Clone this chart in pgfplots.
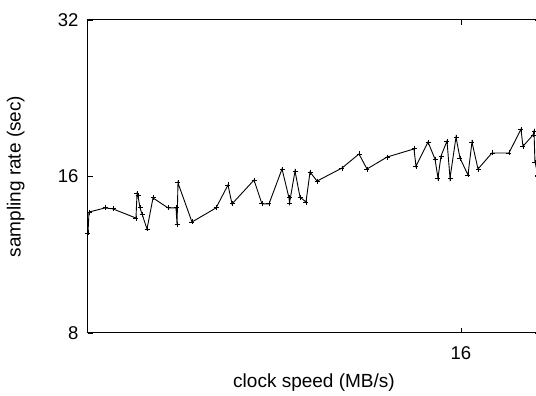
\documentclass[border=0pt]{standalone}
\usepackage{fontspec}
\setmainfont{Liberation Sans}
\usepackage{pgfplots}
\pgfplotsset{compat=1.18}
\begin{document}
\fontsize{19bp}{22bp}\selectfont
\begin{tikzpicture}
\begin{axis}[
  scale only axis, width=452bp, height=313bp,
  xmin=9.339, xmax=17.411,
  ymode=log, log basis y=2, ymin=8, ymax=32,
  ytick={8,16,32}, yticklabels={8,16,32},
  xtick={16}, xticklabels={16},
  minor tick num=0,
  tick align=inside, major tick length=5bp,
  tick style={black, line width=0.8bp},
  axis line style={line width=1bp},
  /pgf/number format/assume math mode=true,
  tick label style={font=\fontsize{18.5bp}{21bp}\selectfont},
  xticklabel style={yshift=-7bp},
  yticklabel style={xshift=-3bp},
  xlabel={clock speed (MB/s)}, ylabel={sampling rate (sec)},
  label style={font=\fontsize{19bp}{22bp}\selectfont},
  x label style={at={(axis description cs:0.5,-0.16)}, anchor=center},
  y label style={at={(axis description cs:-0.16,0.5)}, anchor=center},
  clip=true,
]
\addplot[black, line width=0.9bp, mark=+, mark size=2.5bp] coordinates {
(9.339,12.46) (9.357,13.67) (9.643,13.92) (9.786,13.86) (10.196,13.31)
(10.214,14.81) (10.232,14.68) (10.268,13.92) (10.304,13.55) (10.393,12.68)
(10.500,14.55) (10.768,13.92) (10.911,13.92) (10.929,12.96) (10.946,15.55)
(11.196,13.08) (11.625,13.92) (11.839,15.41) (11.911,14.17) (12.304,15.75)
(12.446,14.17) (12.571,14.17) (12.804,16.54) (12.929,14.55) (12.938,14.23)
(13.036,16.39) (13.125,14.61) (13.232,14.29) (13.304,16.32) (13.429,15.68)
(13.875,16.61) (14.179,17.68) (14.321,16.54) (14.679,17.44) (15.161,18.08)
(15.196,16.75) (15.411,18.64) (15.536,17.28) (15.589,15.89) (15.643,17.52)
(15.750,18.72) (15.804,15.89) (15.911,19.05) (15.982,17.36) (16.125,16.11)
(16.196,18.64) (16.304,16.54) (16.554,17.76) (16.857,17.76) (17.071,19.73)
(17.107,18.29) (17.286,19.23) (17.304,19.55) (17.321,17.06) (17.375,16.11)
};
\end{axis}
\pgfresetboundingbox
\path ([xshift=-88bp,yshift=-63bp]current axis.south west) rectangle ([xshift=448bp,yshift=20bp]current axis.north west);
\end{tikzpicture}
\end{document}
